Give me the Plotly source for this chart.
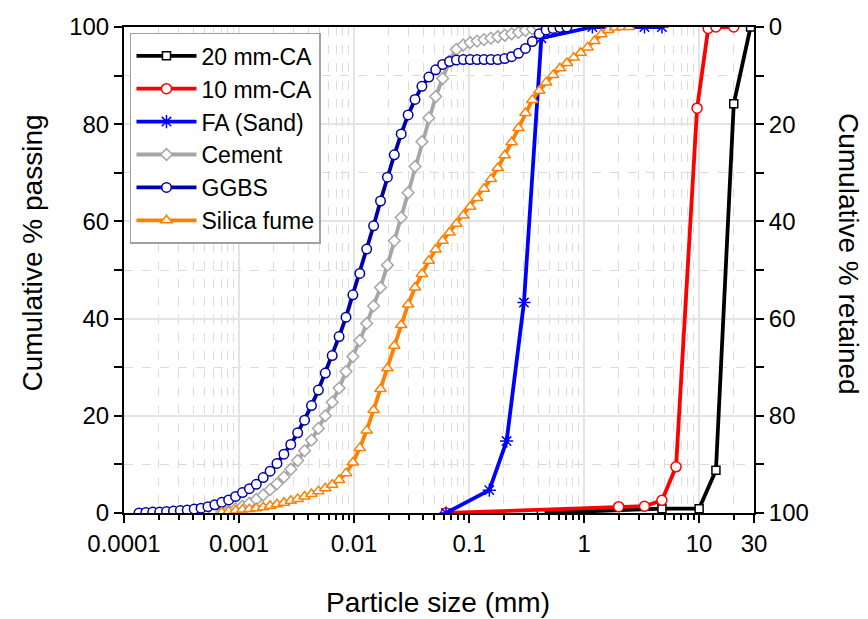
import plotly.graph_objects as go

# ---------------- data ----------------
# laser-diffraction size bins (mm)
SIZES = [1.349e-4, 1.549e-4, 1.778e-4, 2.042e-4, 2.344e-4, 2.692e-4, 3.090e-4, 3.548e-4, 4.074e-4, 4.677e-4,
         5.370e-4, 6.166e-4, 7.079e-4, 8.128e-4, 9.333e-4, 1.072e-3, 1.230e-3, 1.413e-3, 1.622e-3, 1.862e-3,
         2.138e-3, 2.455e-3, 2.818e-3, 3.236e-3, 3.715e-3, 4.266e-3, 4.898e-3, 5.623e-3, 6.457e-3, 7.413e-3,
         8.511e-3, 9.772e-3, 0.01122, 0.01288, 0.01479, 0.01698, 0.01950, 0.02239, 0.02570, 0.02951,
         0.03388, 0.03890, 0.04467, 0.05129, 0.05888, 0.06761, 0.07762, 0.08913, 0.1023, 0.1175,
         0.1349, 0.1549, 0.1778, 0.2042, 0.2344, 0.2692, 0.3090, 0.3548, 0.4074, 0.4677,
         0.5370, 0.6166, 0.7079, 0.8128, 0.9333, 1.072, 1.230, 1.413, 1.622, 1.862,
         2.138, 2.455]

GGBS_X = SIZES[0:63]
GGBS_Y = [0, 0.1, 0.2, 0.2, 0.3, 0.4, 0.5, 0.6, 0.8, 1.0,
          1.3, 1.7, 2.2, 2.7, 3.4, 4.2, 5.0, 5.9, 7.3, 8.6,
          10.2, 12.1, 14.1, 16.5, 19.1, 22.1, 25.3, 28.8, 32.4, 36.3,
          40.3, 44.9, 49.3, 54.3, 59.1, 64.2, 69.1, 73.7, 78.0, 81.9,
          85.1, 87.8, 89.7, 91.2, 92.3, 92.9, 93.2, 93.3, 93.3, 93.3,
          93.3, 93.3, 93.3, 93.5, 93.9, 94.6, 95.6, 97.0, 98.6, 99.4,
          99.7, 99.9, 100]

CEM_X = SIZES[10:60]
CEM_Y = [0.0, 0.1, 0.2, 0.5, 0.9, 1.4, 2.0, 2.8, 3.7, 4.8,
         6.0, 7.4, 9.0, 10.8, 12.8, 15.0, 17.4, 20.0, 22.8, 25.7,
         29.1, 32.2, 35.5, 39.0, 42.6, 46.4, 51.0, 56.0, 60.8, 65.9,
         71.3, 76.4, 81.3, 85.7, 89.4, 93.0, 95.4, 96.3, 96.8, 97.1,
         97.4, 97.7, 98.0, 98.3, 98.6, 98.9, 99.3, 99.6, 99.9, 100]

SF_X = SIZES[12:72]
SF_Y = [0.1, 0.3, 0.5, 0.7, 0.8, 1.0, 1.2, 1.5, 1.8, 2.1,
        2.5, 2.9, 3.4, 3.9, 4.5, 5.1, 5.8, 6.8, 8.2, 10.4,
        13.4, 17.0, 21.2, 25.5, 29.8, 34.4, 38.7, 42.9, 46.4, 49.2,
        51.9, 54.2, 56.0, 57.7, 59.5, 61.2, 63.0, 64.8, 66.7, 68.7,
        71.0, 73.6, 76.3, 79.2, 82.3, 85.0, 86.9, 88.6, 90.1, 91.5,
        92.6, 93.7, 94.7, 95.8, 97.1, 98.5, 99.4, 99.9, 100, 100]

FA_X = [0.063, 0.15, 0.212, 0.3, 0.425, 1.18, 3.35, 4.75]
FA_Y = [0, 4.7, 14.8, 43.3, 97.7, 100, 100, 100]

CA10_X = [0.063, 2.0, 3.35, 4.75, 6.3, 9.6, 12.0, 14.0, 20.0]
CA10_Y = [0, 1.3, 1.4, 2.6, 9.5, 83.3, 99.7, 100, 100]

CA20_X = [0.425, 4.75, 10.0, 14.0, 20.0, 28.0]
CA20_Y = [0, 0.9, 0.9, 8.8, 84.2, 100]

X_TICKS = [1e-4, 1e-3, 1e-2, 1e-1, 1, 10, 30]
X_TICK_TEXT = ["0.0001", "0.001", "0.01", "0.1", "1", "10", "30"]
Y_TICKS = [0, 20, 40, 60, 80, 100]

# ---------------- figure ----------------
FONT = "Liberation Sans, Arial, sans-serif"
fig = go.Figure()

series = [
    ("20 mm-CA", CA20_X, CA20_Y, "#000000", "square", 8, "white"),
    ("10 mm-CA", CA10_X, CA10_Y, "#ff0000", "circle", 10, "white"),
    ("FA (Sand)", FA_X, FA_Y, "#0000ff", "asterisk-open", 11, None),
    ("Cement", CEM_X, CEM_Y, "#a6a6a6", "diamond", 9, "white"),
    ("GGBS", GGBS_X, GGBS_Y, "#0000a8", "circle", 9.5, "white"),
    ("Silica fume", SF_X, SF_Y, "#ff8000", "triangle-up", 10, "white"),
]
for name, xs, ys, col, sym, size, fill in series:
    marker = dict(symbol=sym, size=size, line=dict(color=col, width=1.5))
    marker["color"] = fill if fill else col
    fig.add_trace(go.Scatter(x=xs, y=ys, name=name, mode="lines+markers",
                             line=dict(color=col, width=3.8), marker=marker))

# dummy trace to activate right axis
fig.add_trace(go.Scatter(x=[1], y=[None], yaxis="y2", showlegend=False, hoverinfo="skip"))

minor_x = [m * 10 ** d for d in range(-4, 1) for m in range(2, 10)] + [20]

fig.update_layout(
    width=868, height=619,
    margin=dict(l=124, r=114, t=27, b=106),
    paper_bgcolor="white", plot_bgcolor="white",
    font=dict(family=FONT, size=23, color="black"),
    showlegend=True,
    legend=dict(x=0.0095, y=0.988, xanchor="left", yanchor="top",
                bgcolor="white", bordercolor="#a0a0a0", borderwidth=1.5,
                font=dict(size=23), itemwidth=60, tracegroupgap=0),
    xaxis=dict(type="log", range=[-4, 1.4771],
               tickmode="array", tickvals=X_TICKS, ticktext=X_TICK_TEXT,
               ticks="outside", ticklen=8, tickwidth=1.5, tickcolor="black",
               showline=True, linecolor="black", linewidth=2, mirror=True,
               showgrid=True, gridcolor="#e4e4e4", gridwidth=1.5,
               tickfont=dict(size=24), zeroline=False,
               minor=dict(tickmode="array", tickvals=minor_x, ticks="outside", ticklen=5,
                          tickwidth=1.5, tickcolor="black", showgrid=True,
                          gridcolor="#dcdcdc", griddash="dash", gridwidth=1)),
    yaxis=dict(range=[0, 100], tickmode="array", tickvals=Y_TICKS,
               ticks="outside", ticklen=8, tickwidth=1.5, tickcolor="black",
               showline=True, linecolor="black", linewidth=2,
               showgrid=True, gridcolor="#e4e4e4", gridwidth=1.5, zeroline=False,
               tickfont=dict(size=24),
               minor=dict(tickmode="array", tickvals=[10, 30, 50, 70, 90], ticks="outside",
                          ticklen=8, tickwidth=1.5, tickcolor="black", showgrid=True,
                          gridcolor="#dcdcdc", griddash="dash", gridwidth=1)),
    yaxis2=dict(range=[100, 0], overlaying="y", side="right", tickmode="array",
                tickvals=Y_TICKS, ticks="outside", ticklen=8, tickwidth=1.5, tickcolor="black",
                showline=True, linecolor="black", linewidth=2, showgrid=False, zeroline=False,
                tickfont=dict(size=24),
                minor=dict(tickmode="array", tickvals=[10, 30, 50, 70, 90], ticks="outside",
                           ticklen=8, tickwidth=1.5, tickcolor="black", showgrid=False)),
    annotations=[
        dict(text="Particle size (mm)", xref="paper", yref="paper", x=0.498, y=-0.185,
             xanchor="center", yanchor="middle", showarrow=False, font=dict(size=28)),
        dict(text="Cumulative % passing", xref="paper", yref="paper", x=-0.146, y=0.534,
             xanchor="center", yanchor="middle", showarrow=False, textangle=-90,
             font=dict(size=28)),
        dict(text="Cumulative % retained", xref="paper", yref="paper", x=1.150, y=0.534,
             xanchor="center", yanchor="middle", showarrow=False, textangle=90,
             font=dict(size=28)),
    ],
)

fig.write_html("out.html")
